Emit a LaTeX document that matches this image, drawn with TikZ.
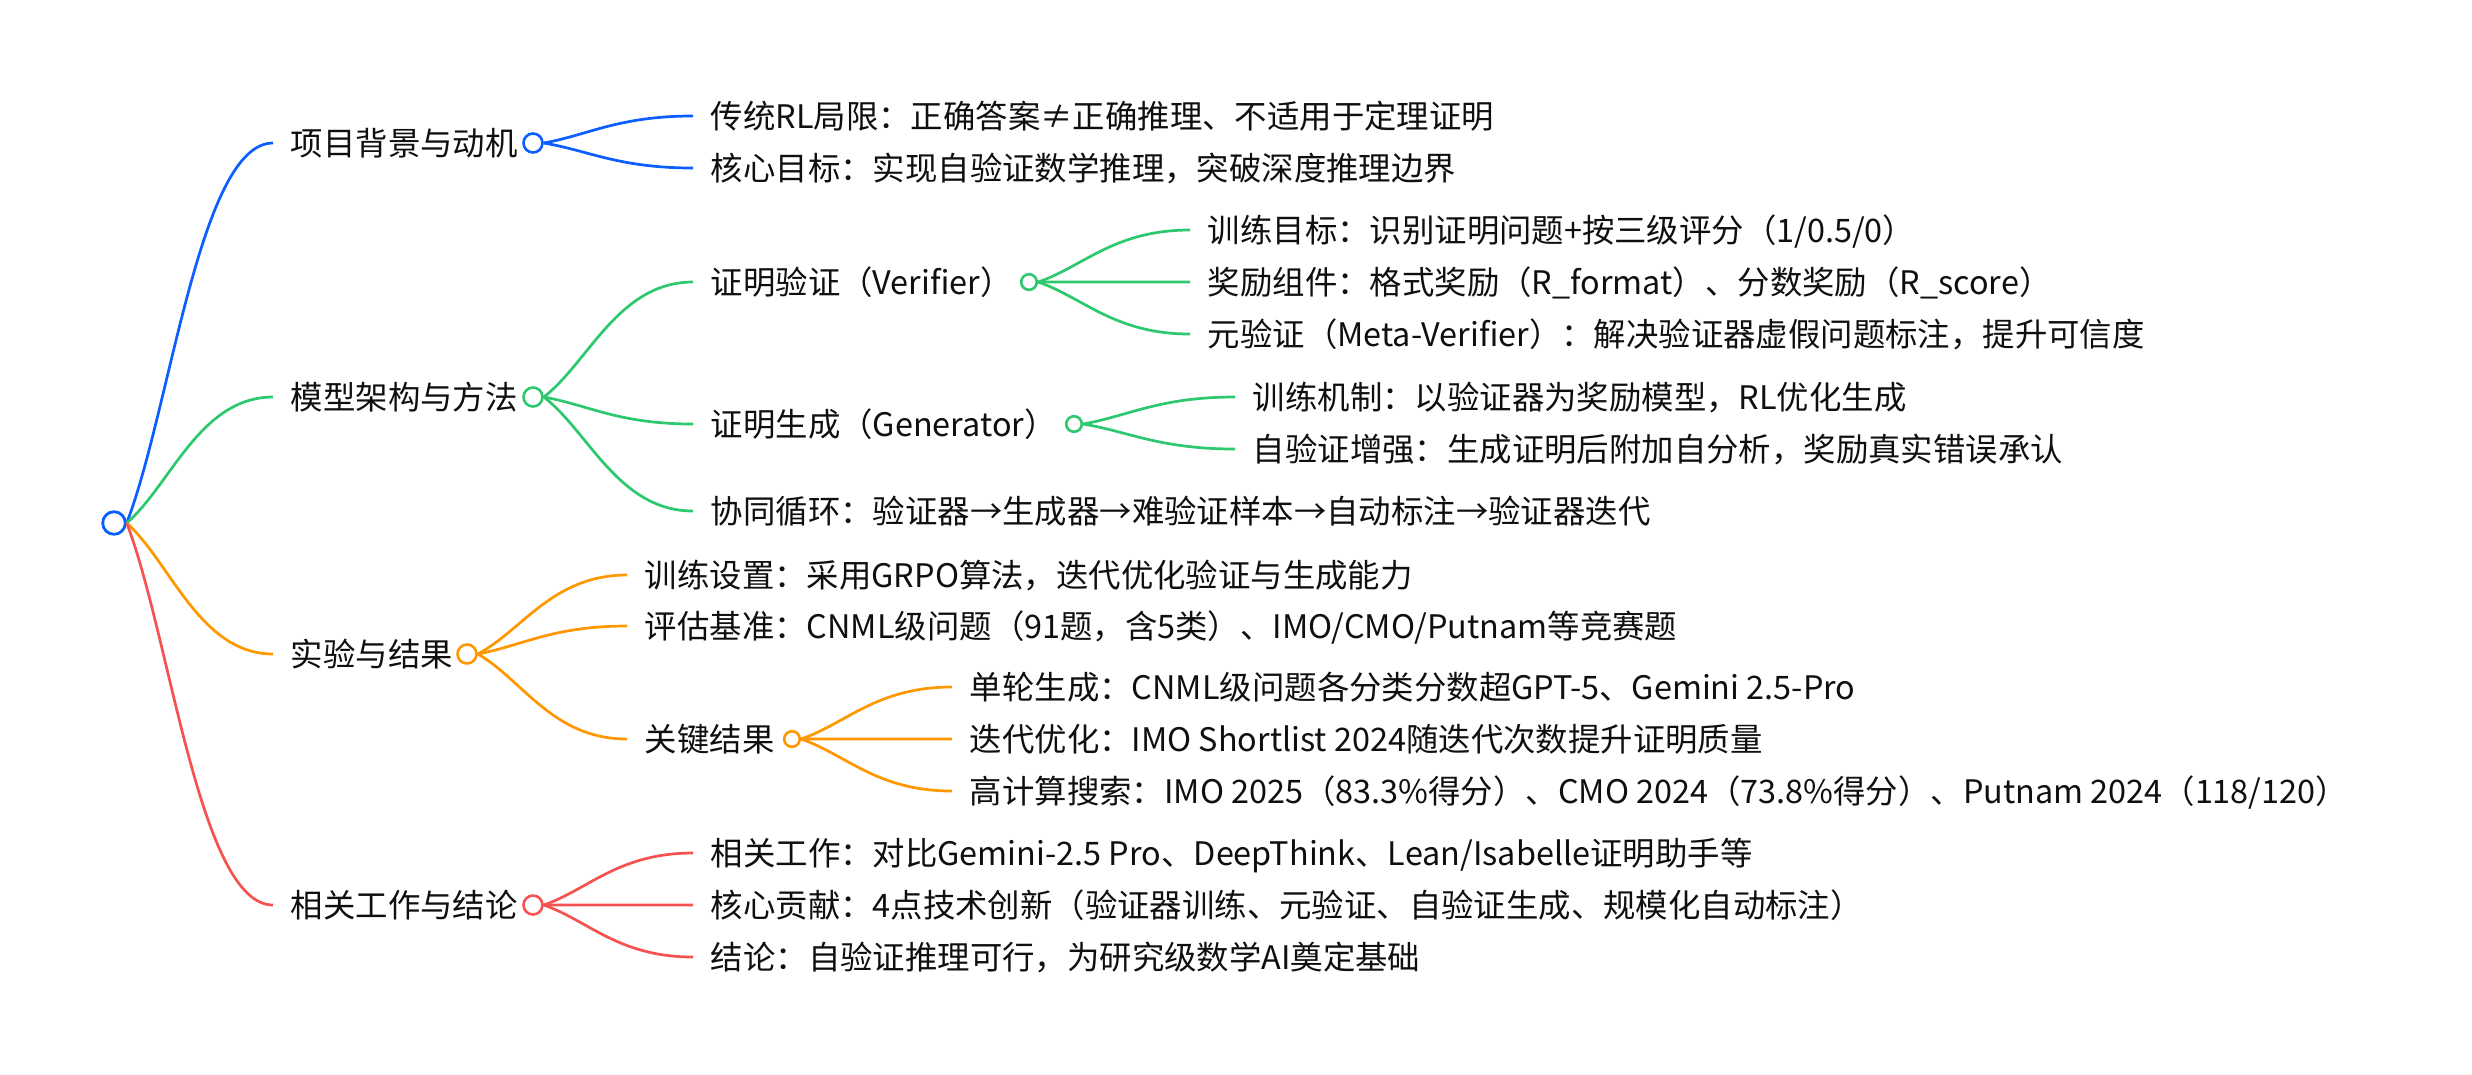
\documentclass[tikz,border=0pt]{standalone}
\usepackage{fontspec}
\setmainfont{Noto Sans CJK SC}
\usetikzlibrary{calc}
\definecolor{cblue}{RGB}{13,94,255}
\definecolor{cgreen}{RGB}{46,200,110}
\definecolor{corange}{RGB}{255,152,0}
\definecolor{cred}{RGB}{245,82,82}
\definecolor{txt}{RGB}{15,15,15}
\begin{document}
\begin{tikzpicture}[x=0.25pt,y=-0.25pt,
  lbl/.style={anchor=west, inner xsep=4.25pt, inner ysep=0pt, text height=7pt, text depth=1pt, font=\fontsize{8.1pt}{10pt}\selectfont, text=txt},
  dot/.style={circle, draw, fill=white, inner sep=0pt, minimum size=3.9pt, line width=0.65pt},
  dotA/.style={dot, minimum size=4.75pt},
  rootdot/.style={dot, minimum size=5.65pt, line width=0.7pt},
  lk/.style={line width=0.68pt, to path={let \p1=(\tikztostart), \p2=(\tikztotarget) in .. controls ($(\p1)!0.3!(\p2)$) and ({0.5*\x1+0.5*\x2},\y2) .. (\tikztotarget)}}
]
\useasboundingbox (0,0) rectangle (2472,1074);
% root
\node[rootdot, draw=cblue] (r) at (114,523) {};
% level 1
\node[lbl] (A) at (273,143) {项目背景与动机};
\node[lbl] (B) at (273,397) {模型架构与方法};
\node[lbl] (C) at (273,654) {实验与结果};
\node[lbl] (D) at (273,905) {相关工作与结论};
% A children
\node[lbl] (A1) at (693,116) {传统RL局限：正确答案≠正确推理、不适用于定理证明};
\node[lbl] (A2) at (693,168) {核心目标：实现自验证数学推理，突破深度推理边界};
% B children
\node[lbl] (B1) at (693,282) {证明验证（Verifier）};
\node[lbl] (B2) at (693,424) {证明生成（Generator）};
\node[lbl] (B3) at (693,511) {协同循环：验证器→生成器→难验证样本→自动标注→验证器迭代};
\node[lbl] (B11) at (1190,230) {训练目标：识别证明问题+按三级评分（1/0.5/0）};
\node[lbl] (B12) at (1190,282) {奖励组件：格式奖励（R\_format）、分数奖励（R\_score）};
\node[lbl] (B13) at (1190,334) {元验证（Meta-Verifier）：解决验证器虚假问题标注，提升可信度};
\node[lbl] (B21) at (1235,397) {训练机制：以验证器为奖励模型，RL优化生成};
\node[lbl] (B22) at (1235,449) {自验证增强：生成证明后附加自分析，奖励真实错误承认};
% C children
\node[lbl] (C1) at (627,575) {训练设置：采用GRPO算法，迭代优化验证与生成能力};
\node[lbl] (C2) at (627,626) {评估基准：CNML级问题（91题，含5类）、IMO/CMO/Putnam等竞赛题};
\node[lbl] (C3) at (627,739) {关键结果};
\node[lbl] (C31) at (952,687) {单轮生成：CNML级问题各分类分数超GPT-5、Gemini 2.5-Pro};
\node[lbl] (C32) at (952,739) {迭代优化：IMO Shortlist 2024随迭代次数提升证明质量};
\node[lbl] (C33) at (952,791) {高计算搜索：IMO 2025（83.3\%得分）、CMO 2024（73.8\%得分）、Putnam 2024（118/120）};
% D children
\node[lbl] (D1) at (693,853) {相关工作：对比Gemini-2.5 Pro、DeepThink、Lean/Isabelle证明助手等};
\node[lbl] (D2) at (693,905) {核心贡献：4点技术创新（验证器训练、元验证、自验证生成、规模化自动标注）};
\node[lbl] (D3) at (693,957) {结论：自验证推理可行，为研究级数学AI奠定基础};
% branch dots
\node[dotA, draw=cblue] (Ad) at (533,143) {};
\node[dotA, draw=cgreen] (Bd) at (533,397) {};
\node[dotA, draw=corange] (Cd) at (467,654) {};
\node[dotA, draw=cred] (Dd) at (533,905) {};
\node[dot, draw=cgreen] (B1d) at (1029,282) {};
\node[dot, draw=cgreen] (B2d) at (1074,424) {};
\node[dot, draw=corange] (C3d) at (792,739) {};
% links
\draw[lk, cblue] (r.east) to (A.west);
\draw[lk, cgreen] (r.east) to (B.west);
\draw[lk, corange] (r.east) to (C.west);
\draw[lk, cred] (r.east) to (D.west);
\draw[lk, cblue] (Ad.east) to (A1.west);
\draw[lk, cblue] (Ad.east) to (A2.west);
\draw[lk, cgreen] (Bd.east) to (B1.west);
\draw[lk, cgreen] (Bd.east) to (B2.west);
\draw[lk, cgreen] (Bd.east) to (B3.west);
\draw[lk, cgreen] (B1d.east) to (B11.west);
\draw[lk, cgreen] (B1d.east) to (B12.west);
\draw[lk, cgreen] (B1d.east) to (B13.west);
\draw[lk, cgreen] (B2d.east) to (B21.west);
\draw[lk, cgreen] (B2d.east) to (B22.west);
\draw[lk, corange] (Cd.east) to (C1.west);
\draw[lk, corange] (Cd.east) to (C2.west);
\draw[lk, corange] (Cd.east) to (C3.west);
\draw[lk, corange] (C3d.east) to (C31.west);
\draw[lk, corange] (C3d.east) to (C32.west);
\draw[lk, corange] (C3d.east) to (C33.west);
\draw[lk, cred] (Dd.east) to (D1.west);
\draw[lk, cred] (Dd.east) to (D2.west);
\draw[lk, cred] (Dd.east) to (D3.west);
\end{tikzpicture}
\end{document}
